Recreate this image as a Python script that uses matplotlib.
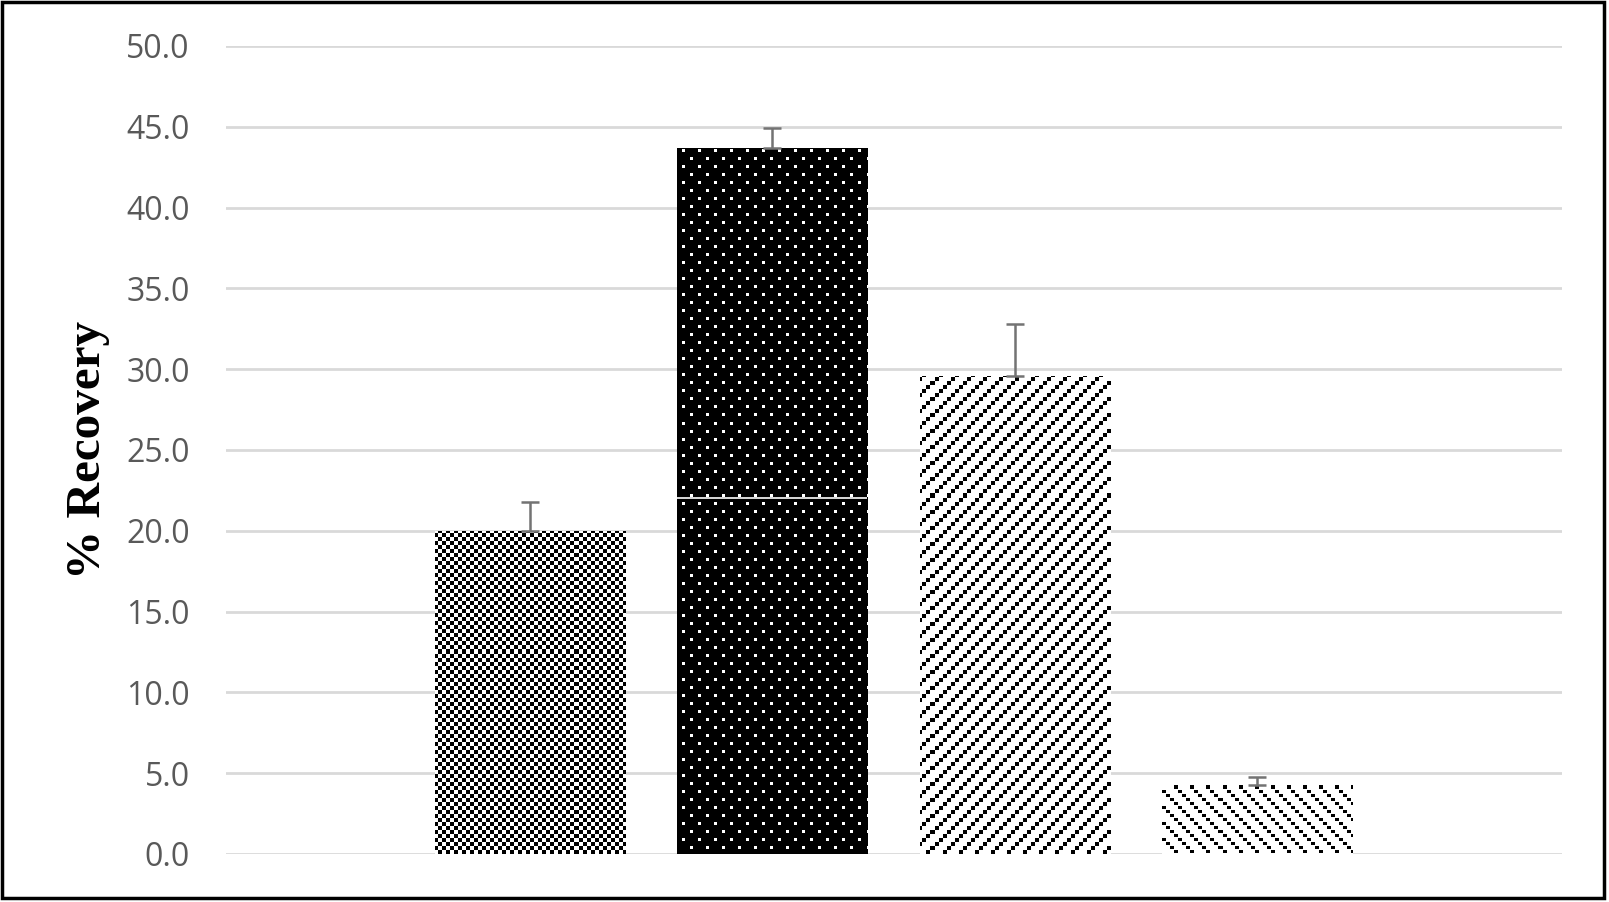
import numpy as np
import matplotlib
matplotlib.use('Agg')
import matplotlib.pyplot as plt
from matplotlib.patches import Rectangle

# data
groups = ['A', 'B', 'C', 'D']
recovery = [20.0, 43.7, 29.6, 4.3]
recovery_err = [1.8, 1.25, 3.2, 0.45]
bar2_split = 22.0   # white seam inside the second bar
yticks = [0, 5, 10, 15, 20, 25, 30, 35, 40, 45, 50]

FIG_W, FIG_H = 1609, 902
AX_L, AX_B, AX_W, AX_H = 226, 48, 1336, 808


def make_textures(h, w):
    rr, cc = np.mgrid[0:h, 0:w]
    # checker board
    R, C = rr // 4, cc // 4
    t1 = np.where((R + C) % 2 == 0, 0.0, 1.0)
    # black with staggered white dots
    row = rr // 8
    dots = (rr % 8 < 3) & (((cc - (row % 2) * 8) % 16) < 3)
    t2 = np.where(dots, 1.0, 0.0)
    # upward diagonal made of touching squares
    up = (R + C) % 4 == 0
    t3 = np.where(up, 0.0, 1.0)
    # lighter downward diagonal
    down = ((C - R) % 4 == 0) & (rr % 4 < 3) & (cc % 4 < 4)
    t4 = np.where(down, 0.0, 1.0)
    return [t1, t2, t3, t4]


fig = plt.figure(figsize=(FIG_W / 100, FIG_H / 100), dpi=100)
ax = fig.add_axes([AX_L / FIG_W, AX_B / FIG_H, AX_W / FIG_W, AX_H / FIG_H])

x = np.arange(len(groups))
xlim = (-1.256, 4.26)
ylim = (0, 50)

bars = ax.bar(x, recovery, width=0.785, color='none', edgecolor='none', zorder=2)

textures = make_textures(AX_H, AX_W)
for b, tex in zip(bars, textures):
    im = ax.imshow(tex, cmap='gray', vmin=0, vmax=1, interpolation='nearest',
                   extent=(xlim[0], xlim[1], ylim[0], ylim[1]), aspect='auto', zorder=2)
    im.set_clip_path(b)

b2 = bars[1]
ax.hlines(bar2_split, b2.get_x(), b2.get_x() + b2.get_width(), color='white', lw=1.2, zorder=3)

ax.errorbar(x, recovery, yerr=[np.zeros(len(x)), recovery_err], fmt='none',
            ecolor='#737373', elinewidth=1.8, capsize=6.5, capthick=1.8, zorder=3)

ax.set_xlim(*xlim)
ax.set_ylim(*ylim)
ax.set_yticks(yticks)
ax.set_yticklabels(['%.1f' % v for v in yticks], family='Open Sans', fontsize=23, color='#595959')
ax.set_xticks([])
ax.tick_params(axis='y', length=0, pad=26)
ax.yaxis.grid(True, color='#d9d9d9', lw=2)
ax.set_axisbelow(True)
for s in ax.spines.values():
    s.set_visible(False)

fig.text(88 / FIG_W, 1 - 450 / FIG_H, '% Recovery', rotation=90, ha='center', va='center',
         family='Liberation Serif', fontweight='bold', fontsize=35.5)

fig.add_artist(Rectangle((2 / FIG_W, 4 / FIG_H), 1602 / FIG_W, 896 / FIG_H,
                         transform=fig.transFigure, fill=False, lw=2.5, ec='black'))

fig.savefig('out.png', dpi=100)
